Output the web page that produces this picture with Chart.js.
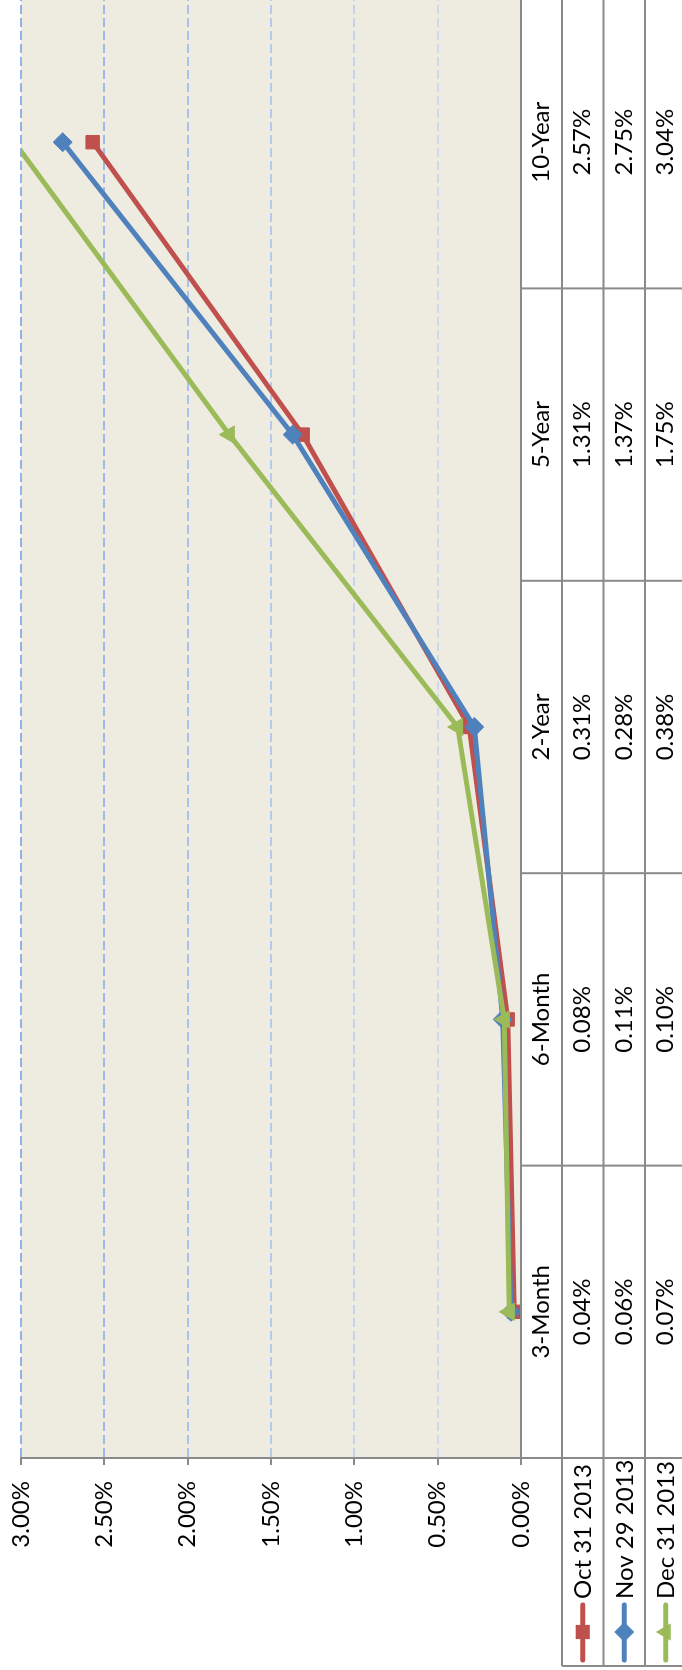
<!DOCTYPE html>
<html>
<head>
<meta charset="utf-8">
<script src="https://cdn.jsdelivr.net/npm/chart.js@4.4.1/dist/chart.umd.min.js"></script>
<style>
  html, body { margin: 0; padding: 0; background: #fff; overflow: hidden; width: 682px; height: 1670px; }
  /* chart is drawn landscape, then turned a quarter counter-clockwise */
  #wrap { position: absolute; left: 0; top: 0; width: 1685px; height: 682px;
          transform-origin: 0 0; transform: translate(0, 1670px) rotate(-90deg); }
</style>
</head>
<body>
<div id="wrap"><canvas id="yieldChart" width="1685" height="682"></canvas></div>
<script>
const tenors = ['3-Month', '6-Month', '2-Year', '5-Year', '10-Year'];
const oct31 = [0.04, 0.08, 0.31, 1.31, 2.57];
const nov29 = [0.06, 0.11, 0.28, 1.37, 2.75];
const dec31 = [0.07, 0.10, 0.38, 1.75, 3.04];
const seriesNames = ['Oct 31 2013', 'Nov 29 2013', 'Dec 31 2013'];
const valueTicks = [0, 0.5, 1, 1.5, 2, 2.5, 3];

const colors = ['#C0504D', '#4F81BD', '#9BBB59'];
const markers = ['rect', 'rectRot', 'triangle'];
const gridColors = ['#D2DDF0', '#CCD9F0', '#C3D4F0', '#B5CBEE', '#A8C2EC', '#9DBAEA', '#92B2E8'];
const FONT = '24px Lato';

function drawMarker(ctx, style, x, y, r, color) {
  ctx.save();
  ctx.fillStyle = color;
  ctx.beginPath();
  if (style === 'rect') {
    const s = r * Math.SQRT1_2;
    ctx.rect(x - s, y - s, 2 * s, 2 * s);
  } else if (style === 'rectRot') {
    ctx.moveTo(x, y - r); ctx.lineTo(x + r, y); ctx.lineTo(x, y + r); ctx.lineTo(x - r, y);
  } else {
    ctx.moveTo(x, y - r);
    ctx.lineTo(x + r * Math.sin(2 * Math.PI / 3), y - r * Math.cos(2 * Math.PI / 3));
    ctx.lineTo(x + r * Math.sin(4 * Math.PI / 3), y - r * Math.cos(4 * Math.PI / 3));
  }
  ctx.closePath();
  ctx.fill();
  ctx.restore();
}

const tablePlugin = {
  id: 'dataTable',
  beforeDraw(chart) {
    const { ctx, chartArea: a } = chart;
    ctx.save();
    ctx.fillStyle = '#EEECE1';
    ctx.fillRect(a.left, a.top, a.right - a.left, a.bottom - a.top);
    ctx.restore();
  },
  afterDraw(chart) {
    const { ctx, chartArea: a, scales: { x } } = chart;
    const band = (a.right - a.left) / tenors.length;
    const rows = [a.bottom, a.bottom + 41, a.bottom + 82.5, a.bottom + 124, a.bottom + 165.5];
    const legendLeft = 4;

    ctx.save();
    ctx.strokeStyle = '#8A8A8A';
    ctx.lineWidth = 2;
    ctx.beginPath();
    ctx.moveTo(a.left, rows[0]); ctx.lineTo(chart.width, rows[0]);
    for (let r = 1; r < 4; r++) { ctx.moveTo(legendLeft, rows[r]); ctx.lineTo(chart.width, rows[r]); }
    for (let i = 0; i < tenors.length; i++) {
      const e = a.left + i * band;
      ctx.moveTo(e, rows[0]); ctx.lineTo(e, rows[4]);
    }
    ctx.moveTo(legendLeft, rows[1]); ctx.lineTo(legendLeft, rows[4]);
    ctx.stroke();

    ctx.fillStyle = '#000';
    ctx.font = FONT;
    ctx.textBaseline = 'middle';
    ctx.textAlign = 'center';
    const series = [oct31, nov29, dec31];
    tenors.forEach((t, i) => {
      const cx = x.getPixelForValue(i);
      ctx.fillText(t, cx, (rows[0] + rows[1]) / 2);
      series.forEach((s, k) => {
        ctx.fillText(s[i].toFixed(2) + '%', cx, (rows[k + 1] + rows[k + 2]) / 2);
      });
    });

    // legend keys in the table's row headers
    seriesNames.forEach((name, k) => {
      const cy = (rows[k + 1] + rows[k + 2]) / 2;
      ctx.strokeStyle = colors[k];
      ctx.lineWidth = 5;
      ctx.lineCap = 'round';
      ctx.beginPath();
      ctx.moveTo(10, cy); ctx.lineTo(65, cy);
      ctx.stroke();
      drawMarker(ctx, markers[k], 38, cy, 10, colors[k]);
      ctx.fillStyle = '#000';
      ctx.textAlign = 'left';
      ctx.fillText(name, 71, cy + 1);
    });
    ctx.restore();
  }
};

function makeSet(label, data, k, order) {
  return {
    label, data, order,
    borderColor: colors[k],
    backgroundColor: colors[k],
    borderWidth: 5,
    pointStyle: markers[k],
    pointRadius: k === 2 ? 10 : 9.5,
    pointBorderWidth: 1,
    pointBackgroundColor: colors[k],
    pointBorderColor: colors[k],
    tension: 0,
    clip: 0
  };
}

document.fonts.load(FONT).then(() => {
  new Chart(document.getElementById('yieldChart'), {
    type: 'line',
    data: {
      labels: tenors,
      datasets: [
        makeSet(seriesNames[0], oct31, 0, 3),
        makeSet(seriesNames[1], nov29, 1, 2),
        makeSet(seriesNames[2], dec31, 2, 1)
      ]
    },
    options: {
      responsive: false,
      animation: false,
      devicePixelRatio: 1,
      layout: { padding: { top: 21, bottom: 161, left: 0, right: 0 } },
      plugins: { legend: { display: false }, tooltip: { enabled: false } },
      scales: {
        x: { display: false, offset: true },
        y: {
          min: valueTicks[0],
          max: valueTicks[valueTicks.length - 1],
          afterBuildTicks: (s) => { s.ticks = valueTicks.map(v => ({ value: v })); },
          afterFit: (s) => { s.width = 212; s.paddingTop = 0; s.paddingBottom = 0; },
          ticks: {
            callback: (v) => Number(v).toFixed(2) + '%',
            color: '#000',
            font: { family: 'Lato', size: 24 },
            padding: 16
          },
          grid: {
            color: (c) => gridColors[c.index] || '#C8D6F0',
            lineWidth: 2,
            tickLength: 7,
            tickColor: '#8A8A8A',
            tickWidth: 2
          },
          border: { display: true, color: '#8A8A8A', width: 2, dash: [9, 4] }
        }
      }
    },
    plugins: [tablePlugin]
  });
});
</script>
</body>
</html>
